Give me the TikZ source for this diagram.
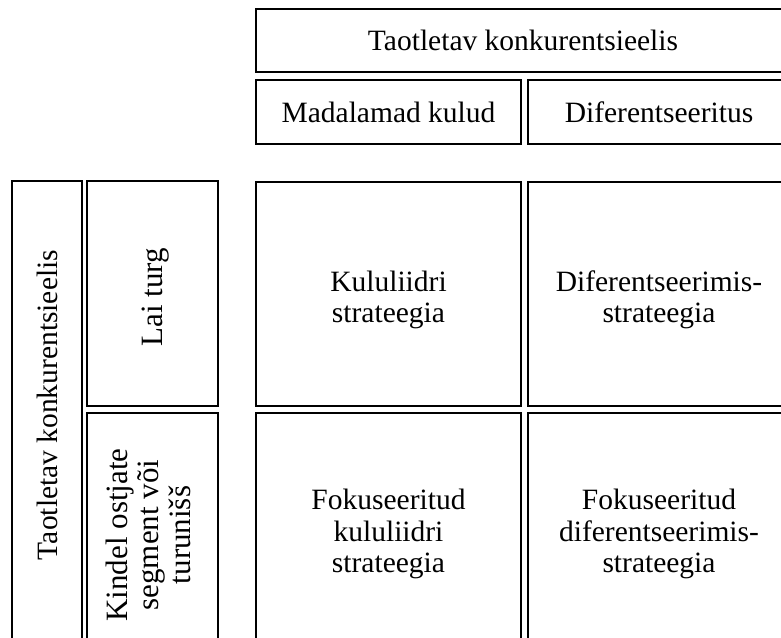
\documentclass[tikz,border=0pt]{standalone}
\usepackage{fontspec}
\setmainfont{Liberation Serif}
\begin{document}
\begin{tikzpicture}[x=1pt,y=-1pt,
  cell/.style={draw=black,line width=2.2pt,inner sep=0pt,align=center,
    font=\fontsize{29.5}{31.5}\selectfont},
  txt/.style={inner sep=0pt,align=center,font=\fontsize{29.5}{31.5}\selectfont},
  sidetxt/.style={inner sep=0pt,align=center,rotate=90,font=\fontsize{31}{31.5}\selectfont}]
\useasboundingbox (0,0) rectangle (781,637);
\clip (0,0) rectangle (781,637);
% header
\node[cell,minimum width=534pt,minimum height=63pt] (top) at (523,40.5) {Taotletav konkurentsieelis};
\node[cell,minimum width=265pt,minimum height=64pt] (low) at (388.5,112) {Madalamad kulud};
\node[cell,minimum width=262pt,minimum height=64pt] (diff) at (659,112) {Diferentseeritus};
% left column
\node[cell,minimum width=70pt,minimum height=474pt] (outer) at (47,418) {};
\node[txt,rotate=90] (outert) at (47,405) {Taotletav konkurentsieelis};
\node[cell,minimum width=131pt,minimum height=225pt] (broadbox) at (152.5,293.5) {};
\node[sidetxt] (broad) at (156,297) {Lai turg};
\node[cell,minimum width=131pt,minimum height=242pt] (narrowbox) at (152.5,534) {};
\node[sidetxt] (narrow) at (148,535) {Kindel ostjate\\segment või\\turunišš};
% matrix
\node[cell,minimum width=265pt,minimum height=224pt] (c11) at (388.5,294) {};
\node[txt] (c11t) at (388.5,300) {Kululiidri\\strateegia};
\node[cell,minimum width=262pt,minimum height=224pt] (c12) at (659,294) {};
\node[txt] (c12t) at (659,300) {Diferentseerimis-\\strateegia};
\node[cell,minimum width=265pt,minimum height=242pt] (c21) at (388.5,534) {Fokuseeritud\\kululiidri\\strateegia};
\node[cell,minimum width=262pt,minimum height=242pt] (c22) at (659,534) {Fokuseeritud\\diferentseerimis-\\strateegia};
\end{tikzpicture}
\end{document}
